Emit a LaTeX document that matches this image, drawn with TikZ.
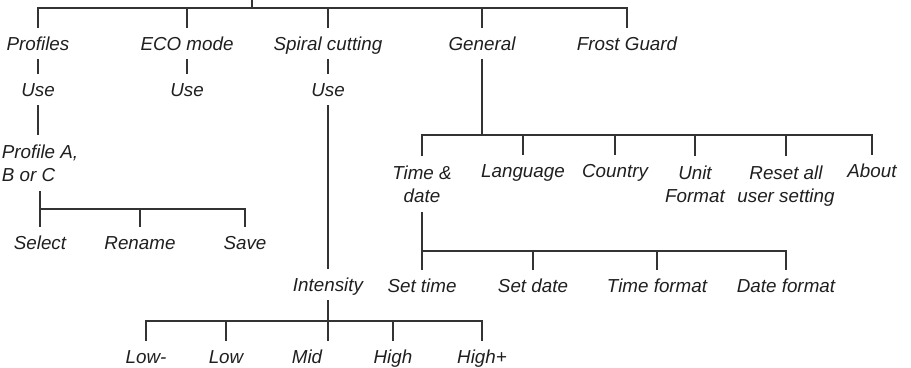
\documentclass[tikz,border=0pt]{standalone}
\usepackage{fontspec}
\setmainfont{Liberation Sans}

\begin{document}
\begin{tikzpicture}[x=0.5pt,y=-0.5pt,color=black!80,line width=1pt,
  item/.style={font=\fontsize{9.4}{11.8}\selectfont\itshape,text=black!88,inner sep=2pt,text height=8.75pt,text depth=2pt,anchor=base},
  itemtwo/.style={font=\fontsize{9.4}{11.8}\selectfont\itshape,text=black!88,inner xsep=2pt,inner ysep=4pt,anchor=north}]

\useasboundingbox (0,0) rectangle (911,368);

\coordinate (menu) at (252,0);

\coordinate (bar1) at (252,8);

\node[item] (prof) at (38,50.5) {Profiles};

\node[item] (eco) at (187,50.5) {ECO mode};

\node[item] (spiral) at (328,50.5) {Spiral cutting};

\node[item] (general) at (482,50.5) {General};

\node[item] (frost) at (627,50.5) {Frost Guard};

\node[item] (use1) at (38,96.5) {Use};

\node[item] (use2) at (187,96.5) {Use};

\node[item] (use3) at (328,96.5) {Use};

\node[itemtwo,align=left] (profabc) at (40,135.5) {Profile A,\\B or C};

\coordinate (bar3) at (40,209);

\node[item] (select) at (40,249.5) {Select};

\node[item] (rename) at (140,249.5) {Rename};

\node[item] (save) at (245,249.5) {Save};

\coordinate (bar2) at (482,135);

\node[itemtwo,align=center] (timedate) at (422,156.5) {Time \&\\date};

\node[item] (language) at (523,177.5) {Language};

\node[item] (country) at (615,177.5) {Country};

\node[itemtwo,align=center] (unit) at (695,156.5) {Unit\\Format};

\node[itemtwo,align=center] (reset) at (786,156.5) {Reset all\\user setting};

\node[item] (about) at (872,177.5) {About};

\coordinate (bar4) at (422,251);

\node[item] (settime) at (422,292.5) {Set time};

\node[item] (setdate) at (533,292.5) {Set date};

\node[item] (timefmt) at (657,292.5) {Time format};

\node[item] (datefmt) at (786,292.5) {Date format};

\node[item] (intens) at (328,291.5) {Intensity};

\coordinate (bar5) at (328,321);

\node[item] (lowm) at (146,363.5) {Low-};

\node[item] (low) at (226,363.5) {Low};

\node[item] (mid) at (307,363.5) {Mid};

\node[item] (high) at (393,363.5) {High};

\node[item] (highp) at (482,363.5) {High+};


\draw (menu) -- (bar1);
\draw (prof.north) |- (bar1) -| (frost.north);
\foreach \n in {eco,spiral,general}
  \draw (\n.north) -- (\n.north |- bar1);

\foreach \a/\b in {prof/use1,eco/use2,spiral/use3,use3/intens,profabc/select,timedate/settime}
  \draw (\a.south) -- (\b.north);
\draw (use1.south) -- (use1.south |- profabc.north);

\draw (bar3) -| (save.north);
\draw (rename.north) -- (rename.north |- bar3);

\draw (general.south) -- (bar2);
\draw (timedate.north) |- (bar2) -| (about.north);
\foreach \n in {language,country,unit,reset}
  \draw (\n.north) -- (\n.north |- bar2);

\draw (bar4) -| (datefmt.north);
\foreach \n in {setdate,timefmt}
  \draw (\n.north) -- (\n.north |- bar4);

\draw (intens.south) -- (intens.south |- mid.north);
\draw (lowm.north) |- (bar5) -| (highp.north);
\foreach \n in {low,high}
  \draw (\n.north) -- (\n.north |- bar5);

\end{tikzpicture}
\end{document}
